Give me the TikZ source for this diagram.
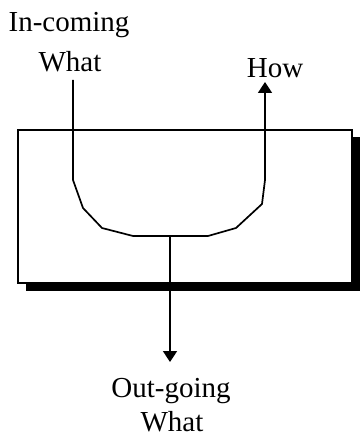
\documentclass[tikz,border=0pt]{standalone}
\usepackage{fontspec}
\setmainfont{Liberation Serif}
\usetikzlibrary{arrows.meta}
\begin{document}
\begin{tikzpicture}[x=1pt,y=-1pt,
  lbl/.style={inner sep=0pt, anchor=base, font=\fontsize{29}{35}\selectfont},
  wire/.style={line width=1.7pt, line join=miter},
  arr/.style={wire, -{Triangle[width=14pt,length=11pt]}},
  boxst/.style={draw, line width=1.7pt, fill=white, minimum width=334pt, minimum height=153pt, inner sep=0pt},
  shadowst/.style={fill=black, minimum width=334pt, minimum height=153pt, inner sep=0pt}]
\useasboundingbox (0,0) rectangle (359,438);
\node[shadowst] (shadow) at (192.5,214) {};
\node[boxst] (box) at (185,206.5) {};
\node[lbl] (in1) at (69,32) {In-coming};
\node[lbl] (in2) at (70,72) {What};
\node[lbl] (how) at (275,78) {How};
\node[lbl] (out1) at (171,397) {Out-going};
\node[lbl] (out2) at (172,431) {What};
\coordinate (p0) at (73,180);
\coordinate (p1) at (83,208);
\coordinate (p2) at (102,228);
\coordinate (p3) at (133,236);
\coordinate (p4) at (208,236);
\coordinate (p5) at (236,228);
\coordinate (p6) at (262,204);
\coordinate (p7) at (265,180);
\coordinate (mid) at (170,236);
\draw[wire] ([yshift=-8pt]in2.base -| p0) -- (p0) -- (p1) -- (p2) -- (p3) -- (p4) -- (p5) -- (p6) -- (p7);
\draw[arr] (p7) -- ([yshift=-4pt]how.base -| p7);
\draw[arr] (mid) -- ([yshift=35pt]out1.base -| mid);
\end{tikzpicture}
\end{document}
